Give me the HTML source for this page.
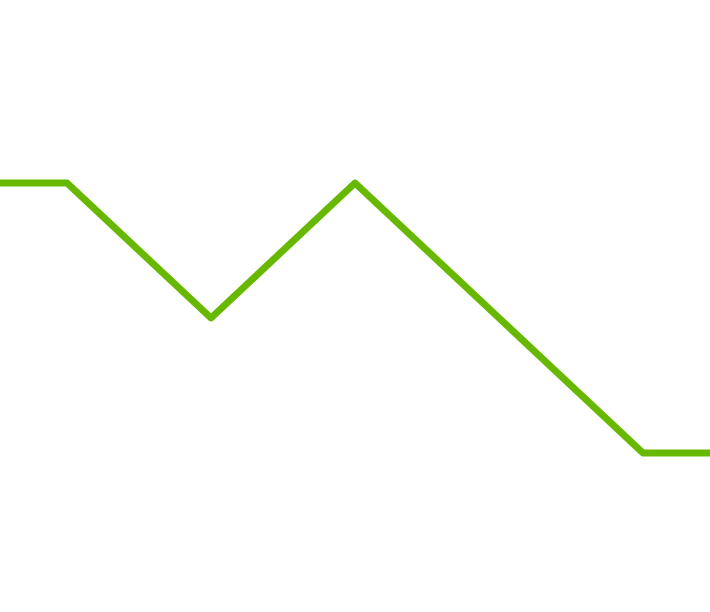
<!DOCTYPE html>
<html>
<head>
<meta charset="utf-8">
<style>
  html,body{margin:0;padding:0;background:#fff;}
  svg{display:block;}
</style>
</head>
<body>
<svg id="chart" width="710" height="612" viewBox="0 0 710 612" xmlns="http://www.w3.org/2000/svg"></svg>
<script>
const categories = ["A", "B", "C", "D", "E"];
const seriesValues = [5, 3, 5, 3, 1];

const svg = document.getElementById('chart');
const x0 = 67, xStep = 144;
function xScale(i){ return x0 + i * xStep; }
function yScale(v){ return 453 - (v - 1) * 67.5; }

const pts = [];
pts.push([0, yScale(seriesValues[0])]);
seriesValues.forEach((v, i) => pts.push([xScale(i), yScale(v)]));
pts.push([710, yScale(seriesValues[seriesValues.length - 1])]);

const line = document.createElementNS('http://www.w3.org/2000/svg', 'polyline');
line.setAttribute('points', pts.map(p => p.join(',')).join(' '));
line.setAttribute('fill', 'none');
line.setAttribute('stroke', '#66b800');
line.setAttribute('stroke-width', '7');
line.setAttribute('stroke-linejoin', 'round');
line.setAttribute('stroke-linecap', 'round');


svg.appendChild(line);
</script>
</body>
</html>
